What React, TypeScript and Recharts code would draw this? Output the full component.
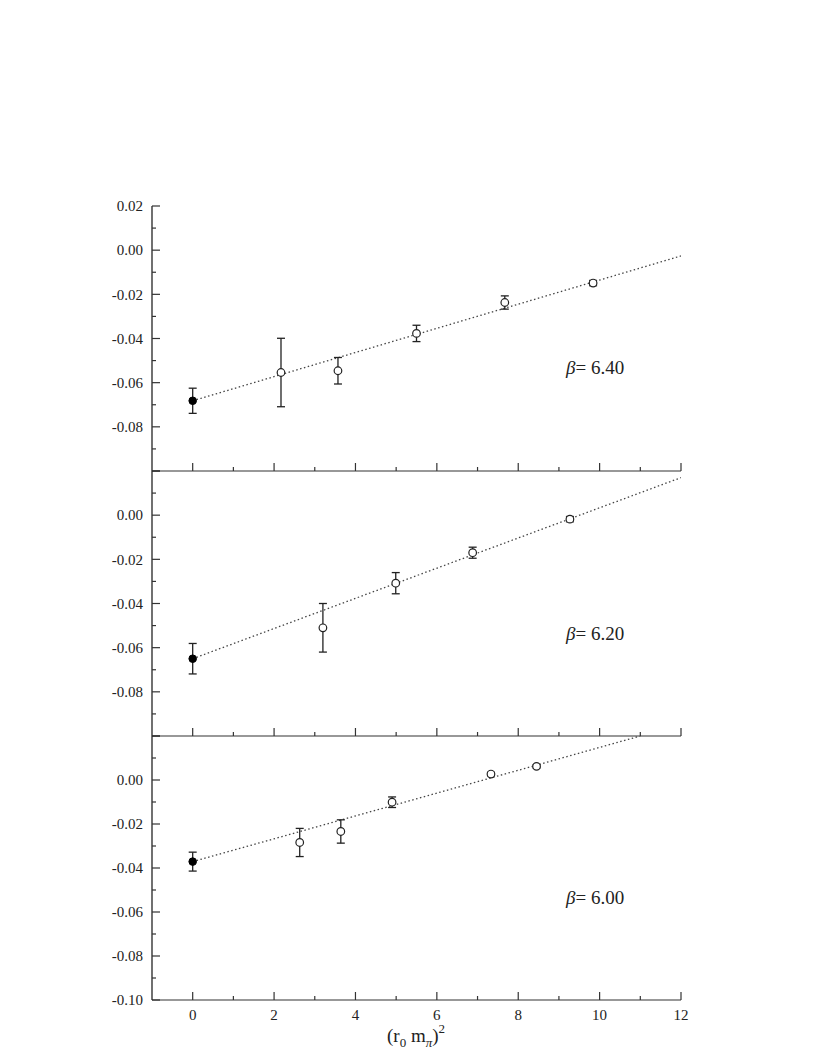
import { ComposedChart, Scatter, Line, XAxis, YAxis, ErrorBar } from "recharts";

// beta = 6.40
const x640 = [0, 2.17, 3.57, 5.5, 7.67, 9.84];
const y640 = [-0.0682, -0.0554, -0.0546, -0.0377, -0.0237, -0.0149];
const e640 = [0.0057, 0.0155, 0.006, 0.0037, 0.003, 0.0012];
const fitX640 = [0, 12];
const fitY640 = [-0.0682, -0.0026];

// beta = 6.20
const x620 = [0, 3.2, 4.99, 6.88, 9.27];
const y620 = [-0.065, -0.051, -0.0308, -0.017, -0.0018];
const e620 = [0.0069, 0.011, 0.0048, 0.0025, 0.0012];
const fitX620 = [0, 12];
const fitY620 = [-0.065, 0.017];

// beta = 6.00
const x600 = [0, 2.63, 3.64, 4.9, 7.33, 8.45];
const y600 = [-0.0371, -0.0284, -0.0234, -0.0101, 0.0027, 0.0062];
const e600 = [0.0043, 0.0064, 0.0053, 0.0024, 0.0008, 0.0007];
const fitX600 = [0, 11.0];
const fitY600 = [-0.0371, 0.02];

const xTicks = [0, 1, 2, 3, 4, 5, 6, 7, 8, 9, 10, 11, 12];
const xLabels = ["0", "2", "4", "6", "8", "10", "12"];
const yTicks = [0.02, 0.01, 0, -0.01, -0.02, -0.03, -0.04, -0.05, -0.06, -0.07, -0.08, -0.09, -0.1];
const yLabelsTop = ["0.02", "0.00", "-0.02", "-0.04", "-0.06", "-0.08"];
const yLabelsMid = ["0.00", "-0.02", "-0.04", "-0.06", "-0.08"];
const yLabelsBot = ["0.00", "-0.02", "-0.04", "-0.06", "-0.08", "-0.10"];

const W = 817;
const PLOT_L = 152;
const PLOT_R = 681;
const TOP_M = 20;
const XAX_H = 40;
const FONT = "'Liberation Serif', 'Times New Roman', 'DejaVu Serif', serif";
const INK = "#222";
const FRAME = "#333";
const serif = { fontFamily: FONT };

const isMajor = (v: number) => Math.abs(Math.round(v * 100)) % 2 === 0;

function LeftTick(props: any) {
  const { x, y, payload, labels } = props;
  const v = payload.value;
  const major = isMajor(v);
  const txt = v.toFixed(2);
  return (
    <g>
      <line x1={x} x2={x + (major ? 8 : 4)} y1={y} y2={y} stroke={FRAME} strokeWidth={1.2} />
      {major && labels.includes(txt) && (
        <text x={x - 9} y={y} dy="0.35em" textAnchor="end" fontSize={15} style={serif} fill={INK}>
          {txt}
        </text>
      )}
    </g>
  );
}

function RightTick(props: any) {
  const { x, y, payload } = props;
  const major = isMajor(payload.value);
  return <line x1={x} x2={x - (major ? 8 : 4)} y1={y} y2={y} stroke={FRAME} strokeWidth={1.2} />;
}

function BottomTick(props: any) {
  const { x, y, payload, showLabels } = props;
  const v = payload.value;
  const major = v % 2 === 0;
  return (
    <g>
      <line x1={x} x2={x} y1={y} y2={y - (major ? 8 : 4)} stroke={FRAME} strokeWidth={1.2} />
      {showLabels && major && xLabels.includes(String(v)) && (
        <text x={x} y={y + 20} textAnchor="middle" fontSize={15} style={serif} fill={INK}>
          {String(v)}
        </text>
      )}
    </g>
  );
}

function TopTick(props: any) {
  const { x, y, payload } = props;
  const major = payload.value % 2 === 0;
  return <line x1={x} x2={x} y1={y} y2={y + (major ? 8 : 4)} stroke={FRAME} strokeWidth={1.2} />;
}

function OpenDot(props: any) {
  const { cx, cy } = props;
  return <circle cx={cx} cy={cy} r={3.8} fill="#fff" stroke={INK} strokeWidth={1.2} />;
}

function FilledDot(props: any) {
  const { cx, cy } = props;
  return <circle cx={cx} cy={cy} r={3.8} fill="#000" stroke="#000" strokeWidth={1} />;
}

function Panel({
  top,
  plotH,
  xs,
  ys,
  es,
  fitX,
  fitY,
  labels,
  showX,
}: {
  top: number;
  plotH: number;
  xs: number[];
  ys: number[];
  es: number[];
  fitX: number[];
  fitY: number[];
  labels: string[];
  showX: boolean;
}) {
  const pts = xs.map((x, i) => ({ x, y: ys[i], err: es[i] }));
  const extrap = pts.slice(0, 1);
  const measured = pts.slice(1);
  const fit = fitX.map((x, i) => ({ x, fy: fitY[i] }));
  const H = TOP_M + plotH + XAX_H;
  return (
    <div style={{ position: "absolute", left: 0, top: top - TOP_M, width: W, height: H }}>
      <ComposedChart
        width={W}
        height={H}
        margin={{ top: TOP_M, right: W - PLOT_R, bottom: 0, left: PLOT_L - 60 }}
      >
        <XAxis
          xAxisId="b"
          dataKey="x"
          type="number"
          domain={[-1, 12]}
          allowDataOverflow
          ticks={xTicks}
          interval={0}
          height={XAX_H}
          tickSize={0}
          tickMargin={0}
          tickLine={false}
          axisLine={{ stroke: FRAME, strokeWidth: 1.2 }}
          tick={(p: any) => <BottomTick {...p} showLabels={showX} />}
        />
        <XAxis
          xAxisId="t"
          orientation="top"
          dataKey="x"
          type="number"
          domain={[-1, 12]}
          allowDataOverflow
          ticks={xTicks}
          interval={0}
          height={0}
          tickSize={0}
          tickMargin={0}
          tickLine={false}
          axisLine={{ stroke: FRAME, strokeWidth: 1.2 }}
          tick={(p: any) => <TopTick {...p} />}
        />
        <YAxis
          yAxisId="l"
          type="number"
          domain={[-0.1, 0.02]}
          allowDataOverflow
          ticks={yTicks}
          interval={0}
          width={60}
          tickSize={0}
          tickMargin={0}
          tickLine={false}
          axisLine={{ stroke: "#111", strokeWidth: 1.2 }}
          tick={(p: any) => <LeftTick {...p} labels={labels} />}
        />
        <YAxis
          yAxisId="r"
          orientation="right"
          type="number"
          domain={[-0.1, 0.02]}
          allowDataOverflow
          ticks={yTicks}
          interval={0}
          width={0}
          tickSize={0}
          tickMargin={0}
          tickLine={false}
          axisLine={{ stroke: FRAME, strokeWidth: 1.2 }}
          tick={(p: any) => <RightTick {...p} />}
        />
        <Line
          xAxisId="b"
          yAxisId="l"
          data={fit}
          dataKey="fy"
          type="linear"
          stroke="#444"
          strokeWidth={1.3}
          strokeDasharray="1.5 2.5"
          dot={false}
          activeDot={false}
          isAnimationActive={false}
        />
        <Scatter
          xAxisId="b"
          yAxisId="l"
          data={measured}
          dataKey="y"
          shape={OpenDot}
          isAnimationActive={false}
        >
          <ErrorBar dataKey="err" direction="y" width={4} stroke={INK} strokeWidth={1.3} isAnimationActive={false} />
        </Scatter>
        <Scatter
          xAxisId="b"
          yAxisId="l"
          data={extrap}
          dataKey="y"
          shape={FilledDot}
          isAnimationActive={false}
        >
          <ErrorBar dataKey="err" direction="y" width={4} stroke={INK} strokeWidth={1.3} isAnimationActive={false} />
        </Scatter>
      </ComposedChart>
    </div>
  );
}

export default function App() {
  return (
    <div style={{ position: "absolute", left: 0, top: 0, width: W, height: 1058, background: "#fff" }}>
      <Panel top={206} plotH={265} xs={x640} ys={y640} es={e640} fitX={fitX640} fitY={fitY640} labels={yLabelsTop} showX={false} />
      <Panel top={471} plotH={265} xs={x620} ys={y620} es={e620} fitX={fitX620} fitY={fitY620} labels={yLabelsMid} showX={false} />
      <Panel top={736} plotH={264} xs={x600} ys={y600} es={e600} fitX={fitX600} fitY={fitY600} labels={yLabelsBot} showX={true} />
      <svg
        width={W}
        height={1058}
        style={{ position: "absolute", left: 0, top: 0, pointerEvents: "none", fontFamily: FONT }}
        fill={INK}
      >
        <text x={566} y={374} fontSize={19} style={serif}>
          <tspan fontStyle="italic">β</tspan>= 6.40
        </text>
        <text x={566} y={640} fontSize={19} style={serif}>
          <tspan fontStyle="italic">β</tspan>= 6.20
        </text>
        <text x={566} y={904} fontSize={19} style={serif}>
          <tspan fontStyle="italic">β</tspan>= 6.00
        </text>
        <text x={416} y={1042} fontSize={19} textAnchor="middle" style={serif}>
          (r<tspan fontSize={13} dy={5}>0</tspan>
          <tspan dy={-5}> m</tspan>
          <tspan fontSize={13} fontStyle="italic" dy={5}>π</tspan>
          <tspan dy={-5}>)</tspan>
          <tspan fontSize={13} dy={-9}>2</tspan>
        </text>
      </svg>
    </div>
  );
}
